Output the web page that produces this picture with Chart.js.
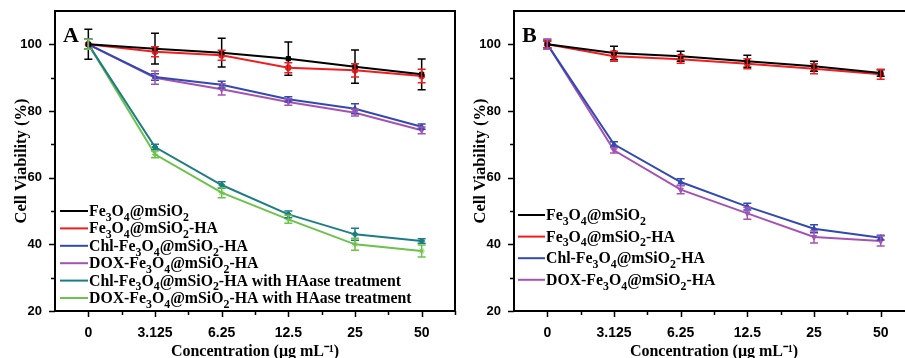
<!DOCTYPE html>
<html>
<head>
<meta charset="utf-8">
<script src="https://cdn.jsdelivr.net/npm/chart.js@4.4.1/dist/chart.umd.min.js"></script>
<style>
  html, body { margin: 0; padding: 0; background: #fff; overflow: hidden; width: 905px; height: 358px; position: relative; }
  canvas { position: absolute; top: 0; }
  #chartA { left: 0; }
  #chartB { left: 459px; }
</style>
</head>
<body>
<canvas id="chartA" width="460" height="358"></canvas>
<canvas id="chartB" width="460" height="358"></canvas>
<script>
// x categories (ug/mL)
const concentrations = ["0", "3.125", "6.25", "12.5", "25", "50"];
const yTicks = [20, 40, 60, 80, 100];

const nameFe = "Fe₃O₄@mSiO₂";
const nameFeHA = "Fe₃O₄@mSiO₂-HA";
const nameChl = "Chl-Fe₃O₄@mSiO₂-HA";
const nameDox = "DOX-Fe₃O₄@mSiO₂-HA";
const nameChlHAase = "Chl-Fe₃O₄@mSiO₂-HA with HAase treatment";
const nameDoxHAase = "DOX-Fe₃O₄@mSiO₂-HA with HAase treatment";

// panel A: cell viability (%) and error
const aFe = [100, 98.7, 97.5, 95.7, 93.3, 91.0];
const aFeErr = [4.5, 4.6, 4.3, 5.0, 5.0, 4.6];
const aFeHA = [100, 97.8, 96.7, 93.0, 92.2, 90.5];
const aFeHAErr = [1.5, 1.5, 1.5, 1.5, 2.0, 2.0];
const aChl = [100, 90.2, 87.9, 83.5, 80.7, 75.3];
const aChlErr = [1.5, 1.0, 1.0, 0.8, 1.5, 0.8];
const aDox = [100, 90.0, 86.5, 82.7, 79.5, 74.2];
const aDoxErr = [1.5, 2.0, 1.7, 1.0, 1.0, 1.0];
const aChlHAase = [100, 69.2, 57.8, 49.0, 43.0, 41.0];
const aChlHAaseErr = [1.5, 0.8, 1.0, 1.0, 1.8, 0.7];
const aDoxHAase = [100, 67.0, 55.5, 47.5, 40.0, 38.0];
const aDoxHAaseErr = [1.5, 1.0, 1.5, 1.2, 1.8, 1.8];

// panel B
const bFe = [100, 97.4, 96.4, 94.9, 93.4, 91.4];
const bFeErr = [1.0, 2.0, 1.5, 1.8, 1.5, 1.0];
const bFeHA = [100, 96.4, 95.5, 94.2, 92.7, 91.0];
const bFeHAErr = [1.0, 1.5, 1.2, 1.5, 1.5, 1.5];
const bChl = [100, 70.0, 58.7, 51.3, 44.7, 42.0];
const bChlErr = [1.5, 0.8, 1.0, 1.0, 1.2, 0.7];
const bDox = [100, 68.2, 56.4, 49.3, 42.2, 41.0];
const bDoxErr = [1.5, 0.8, 1.2, 1.8, 1.8, 1.5];

const SERIF = "'Liberation Serif', 'Times New Roman', serif";
const SANS = "'Liberation Sans', Arial, sans-serif";
const SUBS = "₀₁₂₃₄₅₆₇₈₉";

function series(label, data, err, color, style, rot) {
  return {
    label, data, err,
    borderColor: color, backgroundColor: color,
    borderWidth: 2, tension: 0,
    pointStyle: style, pointRadius: 3, pointRotation: rot || 0,
    pointBorderWidth: 1
  };
}

// draws text, turning unicode subscript digits into lowered smaller digits
function drawRich(ctx, text, x, y, size) {
  let cx = x;
  for (const ch of text) {
    const k = SUBS.indexOf(ch);
    if (k >= 0) {
      ctx.font = `bold ${size * 0.75}px ${SERIF}`;
      ctx.fillText(String(k), cx, y + size * 0.3);
      cx += ctx.measureText(String(k)).width;
    } else {
      ctx.font = `bold ${size}px ${SERIF}`;
      ctx.fillText(ch, cx, y);
      cx += ctx.measureText(ch).width;
    }
  }
}

const panelPlugin = {
  id: 'panel',
  afterDatasetsDraw(chart) {
    const { ctx, scales: { x, y } } = chart;
    chart.data.datasets.forEach((ds) => {
      if (!ds.err) return;
      ctx.save();
      ctx.strokeStyle = ds.borderColor;
      ctx.lineWidth = 1.5;
      ds.data.forEach((v, j) => {
        const px = x.getPixelForValue(j);
        const top = y.getPixelForValue(v + ds.err[j]);
        const bot = y.getPixelForValue(v - ds.err[j]);
        ctx.beginPath();
        ctx.moveTo(px, top); ctx.lineTo(px, bot);
        ctx.moveTo(px - 4, top); ctx.lineTo(px + 4, top);
        ctx.moveTo(px - 4, bot); ctx.lineTo(px + 4, bot);
        ctx.stroke();
      });
      ctx.restore();
    });
  },
  afterDraw(chart, args, opts) {
    const { ctx, chartArea: a, scales: { x, y } } = chart;
    ctx.save();
    ctx.strokeStyle = '#000';
    ctx.lineWidth = 2;
    ctx.strokeRect(a.left, a.top, a.right - a.left, a.bottom - a.top);

    // y ticks (major + minor), pointing out
    ctx.lineWidth = 1.5;
    ctx.beginPath();
    for (let v = 20; v <= 100; v += 10) {
      const py = Math.round(y.getPixelForValue(v)) + 0.5;
      const len = v % 20 === 0 ? 6 : 4;
      ctx.moveTo(a.left - len, py); ctx.lineTo(a.left, py);
    }
    // x ticks
    const step = x.getPixelForValue(1) - x.getPixelForValue(0);
    concentrations.forEach((c, i) => {
      const px = Math.round(x.getPixelForValue(i)) + 0.5;
      ctx.moveTo(px, a.bottom); ctx.lineTo(px, a.bottom + 6);
      const mx = Math.round(x.getPixelForValue(i) + step / 2) + 0.5;
      ctx.moveTo(mx, a.bottom); ctx.lineTo(mx, a.bottom + 4);
    });
    ctx.stroke();

    // panel letter
    ctx.fillStyle = '#000';
    ctx.font = `bold 22px ${SERIF}`;
    ctx.fillText(opts.letter, a.left + 8, a.top + 31);

    // legend
    const L = opts.legend;
    ctx.textBaseline = 'alphabetic';
    chart.data.datasets.forEach((ds, i) => {
      const ry = L.y + i * L.row;
      ctx.strokeStyle = ds.borderColor;
      ctx.lineWidth = 2;
      ctx.beginPath();
      ctx.moveTo(L.x, ry); ctx.lineTo(L.x + L.line, ry);
      ctx.stroke();
      ctx.fillStyle = '#000';
      drawRich(ctx, ds.label, L.x + L.line + 1, ry + 5, L.size);
    });
    ctx.restore();
  }
};

function makeChart(id, datasets, letter, legend) {
  return new Chart(document.getElementById(id), {
    type: 'line',
    data: { labels: concentrations, datasets },
    options: {
      responsive: false,
      animation: false,
      layout: { padding: { top: 11, right: 3, left: 0, bottom: 0 } },
      plugins: {
        legend: { display: false },
        tooltip: { enabled: false },
        panel: { letter, legend }
      },
      scales: {
        x: {
          type: 'category',
          offset: true,
          grid: { display: false },
          border: { display: false },
          ticks: {
            color: '#000', autoSkip: false, maxRotation: 0, padding: 6,
            font: { family: SANS, weight: 'bold', size: 14 }
          },
          title: {
            display: true, text: 'Concentration (μg mL⁻¹)', color: '#000',
            font: { family: SERIF, weight: 'bold', size: 16, lineHeight: 1 },
            padding: { top: 0, bottom: -2 }
          },
          afterFit: s => { s.height = 47; s.paddingLeft = 0; s.paddingRight = 0; }
        },
        y: {
          min: 20, max: 110,
          grid: { display: false },
          border: { display: false },
          afterBuildTicks: s => { s.ticks = yTicks.map(v => ({ value: v })); },
          ticks: {
            color: '#000', padding: 5,
            font: { family: SANS, weight: 'bold', size: 13 }
          },
          title: {
            display: true, text: 'Cell Viability (%)', color: '#000',
            font: { family: SERIF, weight: 'bold', size: 16.5, lineHeight: 1 },
            padding: { top: 13, bottom: 0 }
          },
          afterFit: s => { s.width = 55; s.paddingTop = 0; s.paddingBottom = 0; }
        }
      }
    },
    plugins: [panelPlugin]
  });
}

makeChart('chartA', [
  series(nameFe, aFe, aFeErr, '#000000', 'rect'),
  series(nameFeHA, aFeHA, aFeHAErr, '#f01e1e', 'circle'),
  series(nameChl, aChl, aChlErr, '#3249b0', 'triangle'),
  series(nameDox, aDox, aDoxErr, '#a652b4', 'triangle', 180),
  series(nameChlHAase, aChlHAase, aChlHAaseErr, '#1e7c84', 'rectRot'),
  series(nameDoxHAase, aDoxHAase, aDoxHAaseErr, '#6cc24a', 'star')
], 'A', { x: 60, y: 211, row: 17.4, line: 28, size: 15.8 });

makeChart('chartB', [
  series(nameFe, bFe, bFeErr, '#000000', 'rect'),
  series(nameFeHA, bFeHA, bFeHAErr, '#f01e1e', 'circle'),
  series(nameChl, bChl, bChlErr, '#3249b0', 'triangle'),
  series(nameDox, bDox, bDoxErr, '#a652b4', 'triangle', 180)
], 'B', { x: 59, y: 215, row: 21.6, line: 27, size: 15.8 });
</script>
</body>
</html>
